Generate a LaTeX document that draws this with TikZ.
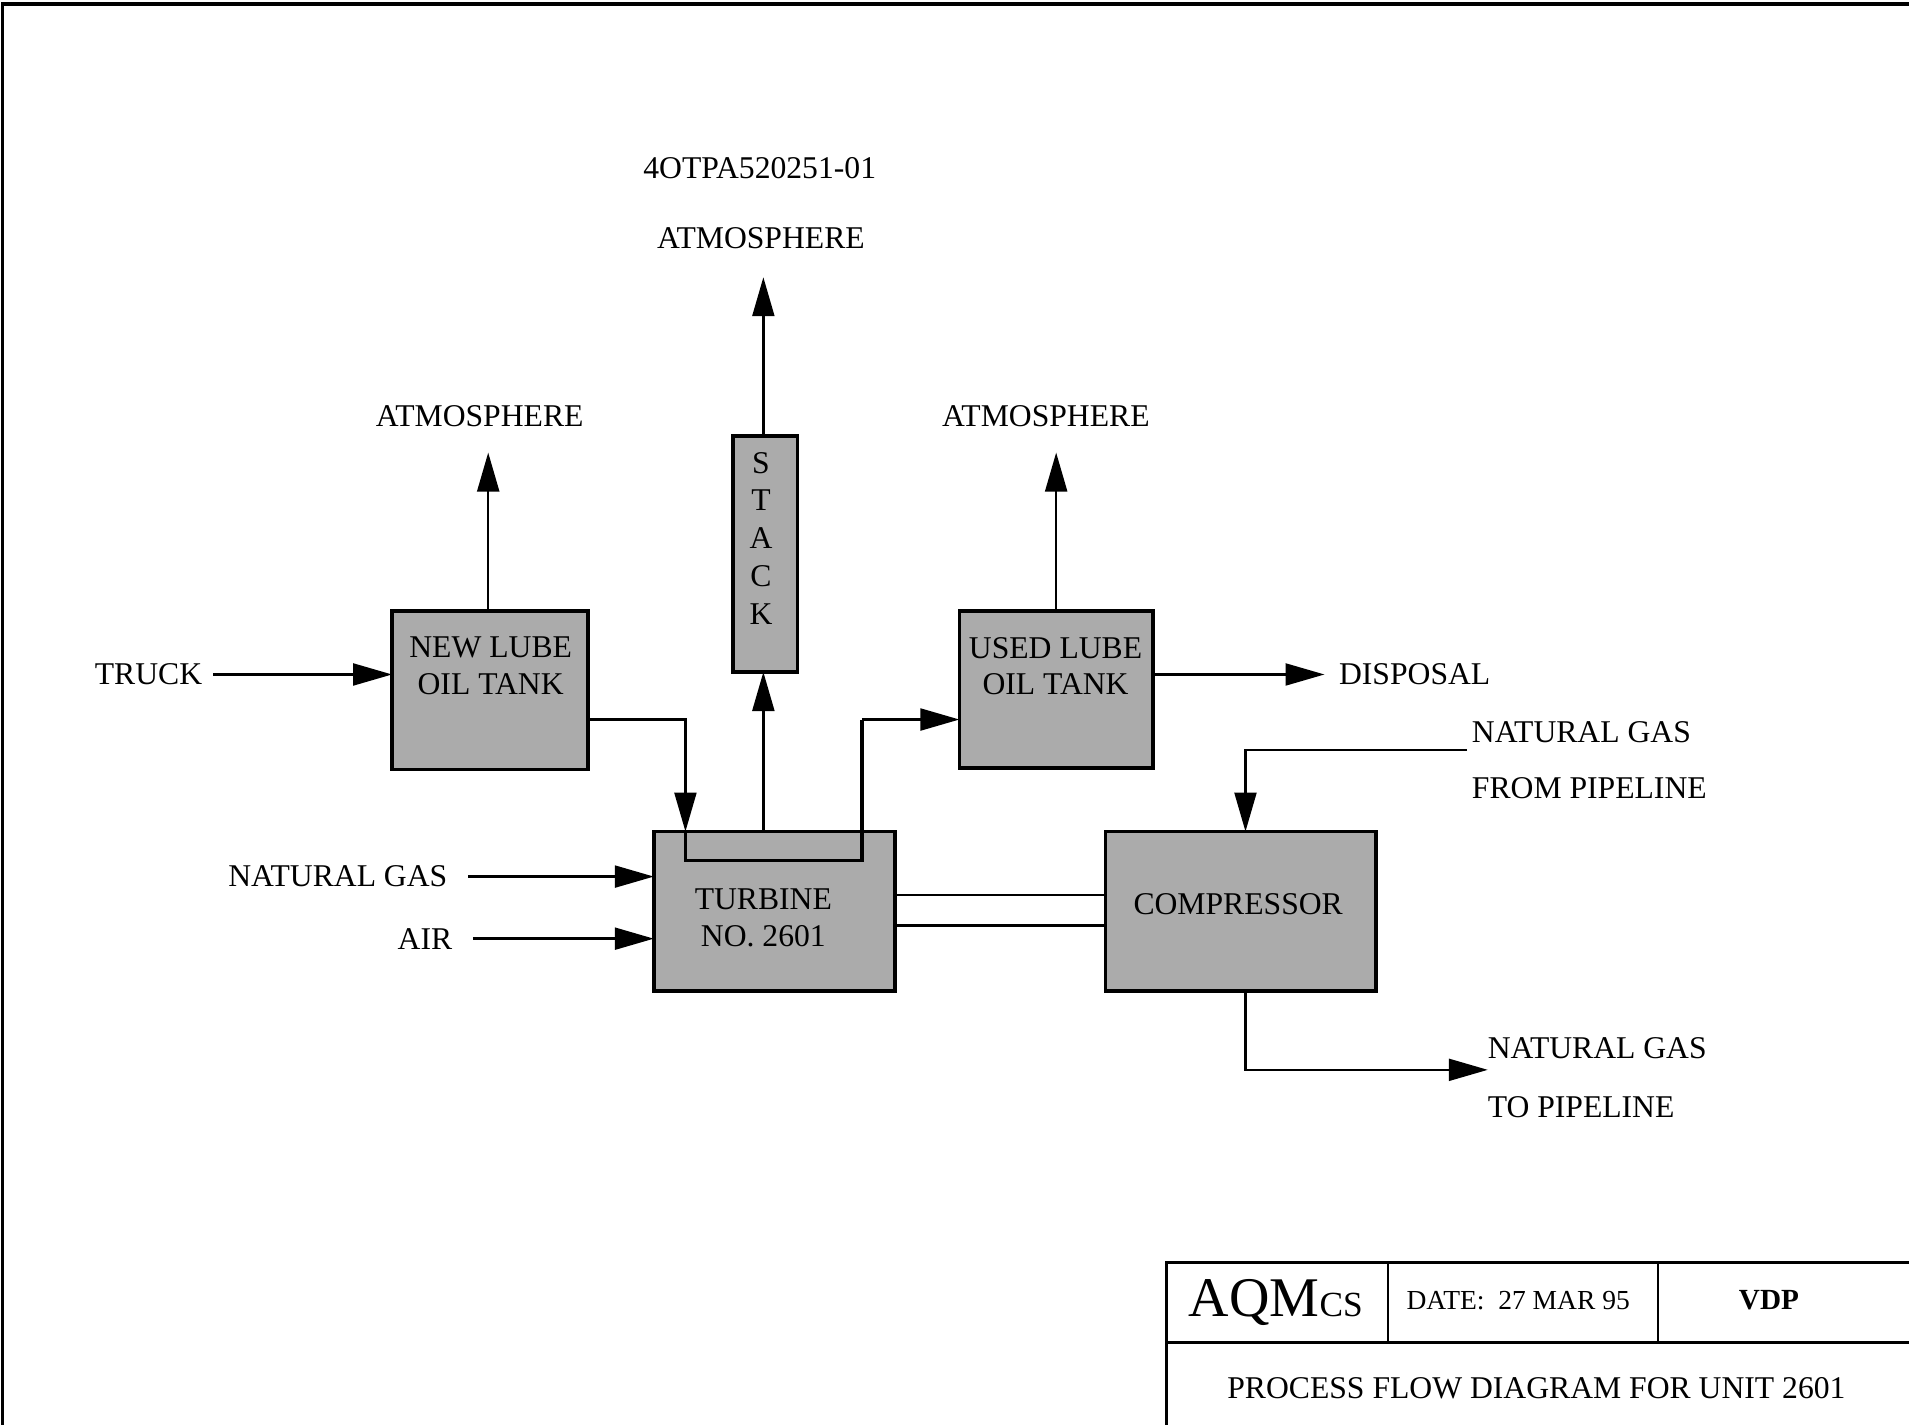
\documentclass[tikz,border=0pt]{standalone}
\usepackage{fontspec}
\setmainfont{Liberation Serif}
\usetikzlibrary{arrows.meta}
\begin{document}
\begin{tikzpicture}[x=0.5pt,y=-0.5pt,
  every node/.style={font=\fontsize{13}{15}\selectfont, inner sep=0pt, outer sep=0pt},
  unitbox/.style={draw, line width=1.5pt, fill=black!33},
  arr/.style={line width=1pt, -{Triangle[length=16pt,width=9pt]}},
  pipe/.style={line width=1pt},
  frame/.style={line width=1.5pt}]
\useasboundingbox (0,0) rectangle (1568,1170);
\clip (0,0) rectangle (1568,1170);
% page frame
\draw[frame] (2,1180) -- (2,3.5) -- (1580,3.5);

% units
\node[unitbox, minimum width=80.5pt, minimum height=65pt] (newtank) at (402.5,567) {};
\node[align=center] (newtanktxt) at (403,547) {NEW LUBE\\OIL TANK};
\node[unitbox, minimum width=79.5pt, minimum height=64.5pt] (usedtank) at (867.5,566.5) {};
\node[align=center] (usedtanktxt) at (867,547) {USED LUBE\\OIL TANK};
\node[unitbox, minimum width=26.5pt, minimum height=97pt] (stack) at (628.5,455) {};
\node[align=center, font=\fontsize{13}{15.5}\selectfont] (stacktxt) at (625,442) {S\\T\\A\\C\\K};
\node[unitbox, minimum width=99pt, minimum height=65.5pt] (turbine) at (636,748.5) {};
\node[align=center] (turbinetxt) at (627,754) {TURBINE\\NO. 2601};
\node[unitbox, minimum width=111pt, minimum height=65.5pt] (comp) at (1019,748.5) {};
\node (comptxt) at (1017,743) {COMPRESSOR};

% labels
\node (code) at (624,138) {4OTPA520251-01};
\node (atmstack) at (625,196) {ATMOSPHERE};
\node (atmnew) at (394,342) {ATMOSPHERE};
\node (atmused) at (859,342) {ATMOSPHERE};
\node (truck) at (122,554) {TRUCK};
\node (disp) at (1162,554) {DISPOSAL};
\node (ng) at (277.5,720) {NATURAL GAS};
\node (air) at (349,771) {AIR};
\node[anchor=west] (ngin) at (1209,601) {NATURAL GAS};
\node[anchor=west] (ngin2) at (1209,647) {FROM PIPELINE};
\node[anchor=west] (ngout) at (1222,861) {NATURAL GAS};
\node[anchor=west] (ngout2) at (1222,909) {TO PIPELINE};

% connectors
\draw[arr, shorten <=4.5pt] (truck.east) -- (newtank.west |- truck);
\draw[arr, shorten <=8.5pt] (ng.east) -- (turbine.west |- ng);
\draw[arr, shorten <=8.5pt] (air.east) -- (turbine.west |- air);
\draw[arr, shorten >=10.5pt] ([xshift=-0.75pt]newtank.north) -- ([xshift=-0.75pt]newtank.north |- atmnew.south);
\draw[arr, shorten >=10.5pt] (usedtank.north) -- (usedtank.north |- atmused.south);
\draw[arr] ([xshift=-0.75pt]stack.south |- turbine.north) -- ([xshift=-0.75pt]stack.south);
\draw[arr, shorten >=11.5pt] ([xshift=-0.75pt]stack.north) -- ([xshift=-0.75pt]stack.north |- atmstack.south);
\draw[arr, shorten >=6pt] (usedtank.east |- disp) -- (disp.west);

% lube oil path through the turbine
\coordinate (oilin) at (563,683);
\coordinate (oilout) at (708,591);
\draw[arr] ([yshift=-12pt]newtank.east) -| (oilin);
\draw[pipe, line width=1.3pt] (oilin) -- ++(0,24) -| (oilout);
\draw[arr] (oilout) -- (usedtank.west |- oilout);

% shaft
\draw[pipe] ([yshift=6.75pt]turbine.east) -- ([yshift=6.75pt]comp.west);
\draw[pipe] ([yshift=-5.75pt]turbine.east) -- ([yshift=-5.75pt]comp.west);

% gas from and to pipeline
\coordinate (pipein) at ([shift={(-2pt,-3.25pt)}]ngin.south west);
\draw[arr] (pipein) -| ([xshift=2pt]comp.north);
\draw[arr] ([xshift=2pt]comp.south) |- ([yshift=-4.5pt]ngout.south west);

% title block
\draw[line width=1.5pt] (1600,1037) -- (958,1037) -- (958,1200);
\draw[line width=1.3pt] (958,1103) -- (1600,1103);
\draw[line width=1pt] (1140,1037) -- (1140,1103);
\draw[line width=1pt] (1362,1037) -- (1362,1103);
\node (logo) at (1048,1070) {\fontsize{23}{25}\selectfont AQM\fontsize{14.5}{16}\selectfont CS};
\node[font=\fontsize{11.3}{13}\selectfont] (date) at (1247,1068) {DATE:\ \ 27 MAR 95};
\node[font=\fontsize{12}{14}\selectfont\bfseries] (vdp) at (1453,1068) {VDP};
\node (title) at (1262,1140) {PROCESS FLOW DIAGRAM FOR UNIT 2601};
\end{tikzpicture}
\end{document}
